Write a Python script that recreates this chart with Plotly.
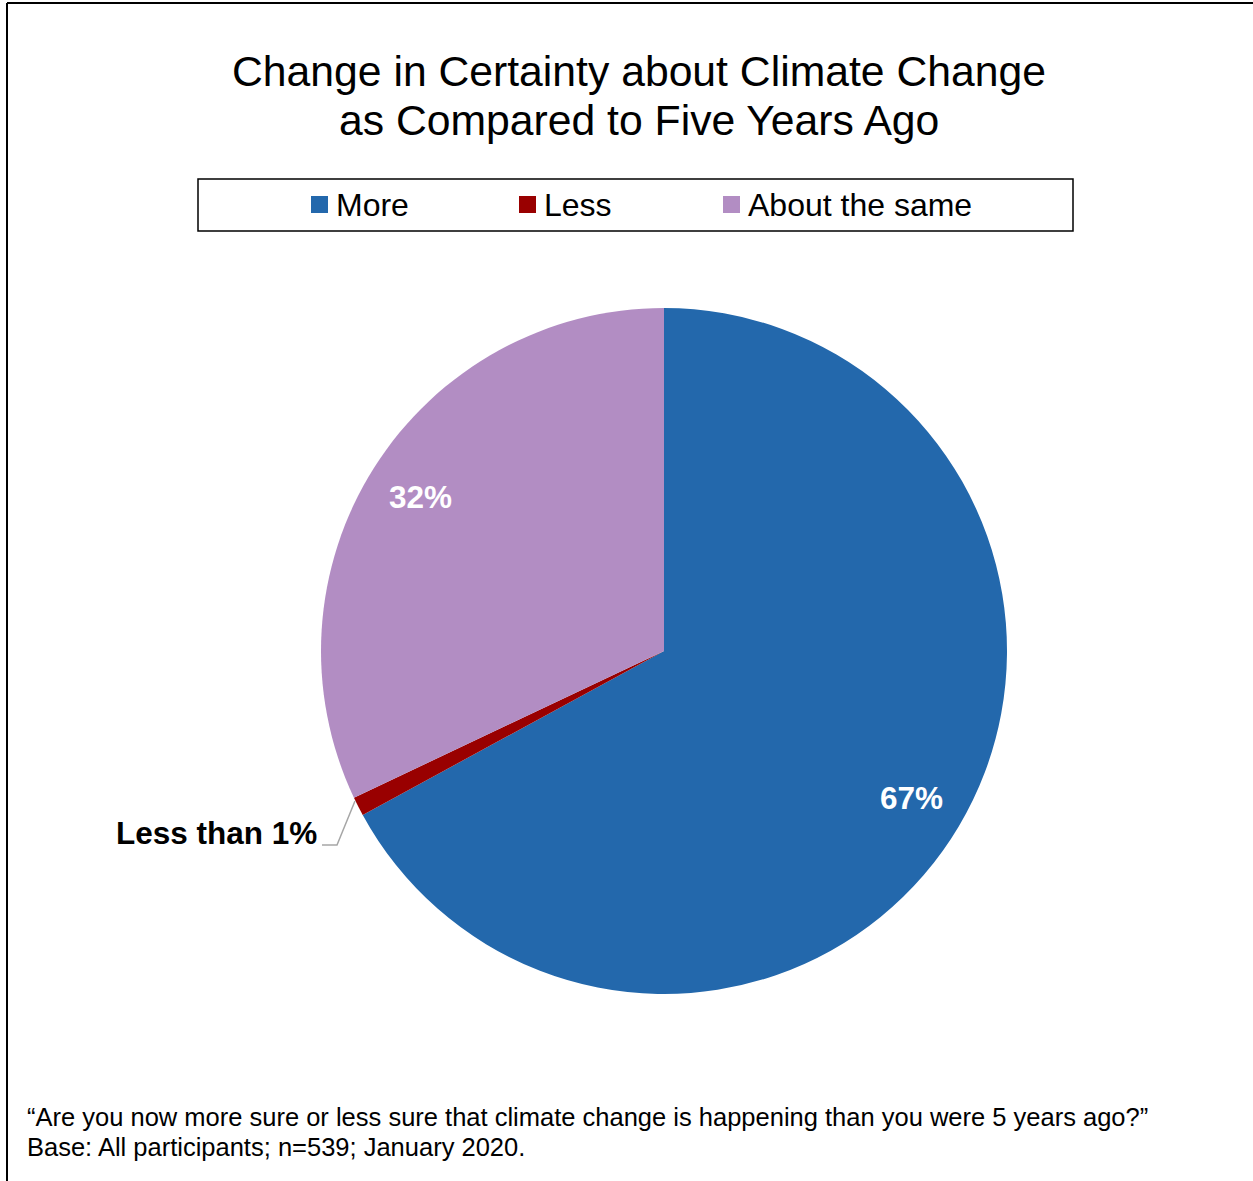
import math
import plotly.graph_objects as go

# Survey responses (share of participants, %)
categories = ["More", "Less", "About the same"]
shares = [67, 0.9, 32]
slice_labels = ["67%", "", "32%"]
slice_colors = ["#2368AC", "#990000", "#B28DC3"]

title_lines = ["Change in Certainty about Climate Change",
               "as Compared to Five Years Ago"]
small_slice_label = "Less than 1%"
footnote_lines = [
    "\u201cAre you now more sure or less sure that climate change is happening than you were 5 years ago?\u201d",
    "Base: All participants; n=539; January 2020.",
]

W, H = 1253, 1181
FONT = "Liberation Sans, Arial, sans-serif"

# pie placement on the page (pixels)
CX, CY, R = 664, 651, 343


def px(x):
    return x / W


def py(y):
    return 1 - y / H


fig = go.Figure()
fig.add_trace(go.Pie(
    labels=categories,
    values=shares,
    textinfo="none",
    marker=dict(colors=slice_colors, line=dict(width=0)),
    sort=False,
    direction="clockwise",
    rotation=0,
    domain=dict(x=[px(CX - R), px(CX + R)], y=[py(CY + R), py(CY - R)]),
    hoverinfo="label+percent",
    showlegend=False,
))

annotations = []

# value labels placed along each slice's mid-angle
total = sum(shares)
cum = 0.0
for v, lab in zip(shares, slice_labels):
    mid = (cum + v / 2) / total * 2 * math.pi
    cum += v
    if not lab:
        continue
    lx = CX + 0.84 * R * math.sin(mid)
    ly = CY - 0.84 * R * math.cos(mid)
    annotations.append(dict(
        text=lab, x=px(lx), y=py(ly), xref="paper", yref="paper",
        xanchor="center", yanchor="middle", showarrow=False,
        font=dict(family=FONT, size=31.5, color="white", weight="bold"),
    ))

for i, line in enumerate(title_lines):
    annotations.append(dict(
        text=line, x=px(639), y=py(71 + 49 * i), xref="paper", yref="paper",
        xanchor="center", yanchor="middle", showarrow=False,
        font=dict(family=FONT, size=42.7, color="black"),
    ))
for i, line in enumerate(footnote_lines):
    annotations.append(dict(
        text=line, x=px(25), y=py(1117 + 30 * i), xref="paper", yref="paper",
        xanchor="left", yanchor="middle", showarrow=False,
        font=dict(family=FONT, size=25.5, color="black"),
    ))
annotations.append(dict(
    text=small_slice_label, x=px(319), y=py(833), xref="paper", yref="paper",
    xanchor="right", yanchor="middle", showarrow=False,
    font=dict(family=FONT, size=31.5, color="black", weight="bold"),
))

shapes = [
    # outer frame (top and left edges)
    dict(type="line", xref="paper", yref="paper", x0=px(7), x1=1, y0=py(3), y1=py(3),
         line=dict(color="black", width=2)),
    dict(type="line", xref="paper", yref="paper", x0=px(7), x1=px(7), y0=py(3), y1=0,
         line=dict(color="black", width=2)),
    # legend box
    dict(type="rect", xref="paper", yref="paper", x0=px(198), x1=px(1073),
         y0=py(231), y1=py(179), line=dict(color="black", width=1.5)),
    # leader line for the small slice
    dict(type="path", xref="paper", yref="paper",
         path=f"M {px(322)},{py(845)} L {px(337)},{py(845)} L {px(355)},{py(801)}",
         line=dict(color="#A6A6A6", width=1.5)),
]

# legend entries: colour key square followed by the category name
legend_x = [311, 519, 723]
for x0, name, col in zip(legend_x, categories, slice_colors):
    shapes.append(dict(type="rect", xref="paper", yref="paper",
                       x0=px(x0), x1=px(x0 + 17), y0=py(213), y1=py(196),
                       fillcolor=col, line=dict(width=0)))
    annotations.append(dict(
        text=name, x=px(x0 + 23), y=py(205), xref="paper", yref="paper",
        xanchor="left", yanchor="middle", showarrow=False,
        font=dict(family=FONT, size=32, color="black"),
    ))

fig.update_layout(
    width=W, height=H,
    margin=dict(l=0, r=0, t=0, b=0),
    paper_bgcolor="white",
    plot_bgcolor="white",
    showlegend=False,
    annotations=annotations,
    shapes=shapes,
)

fig.write_html("out.html")
